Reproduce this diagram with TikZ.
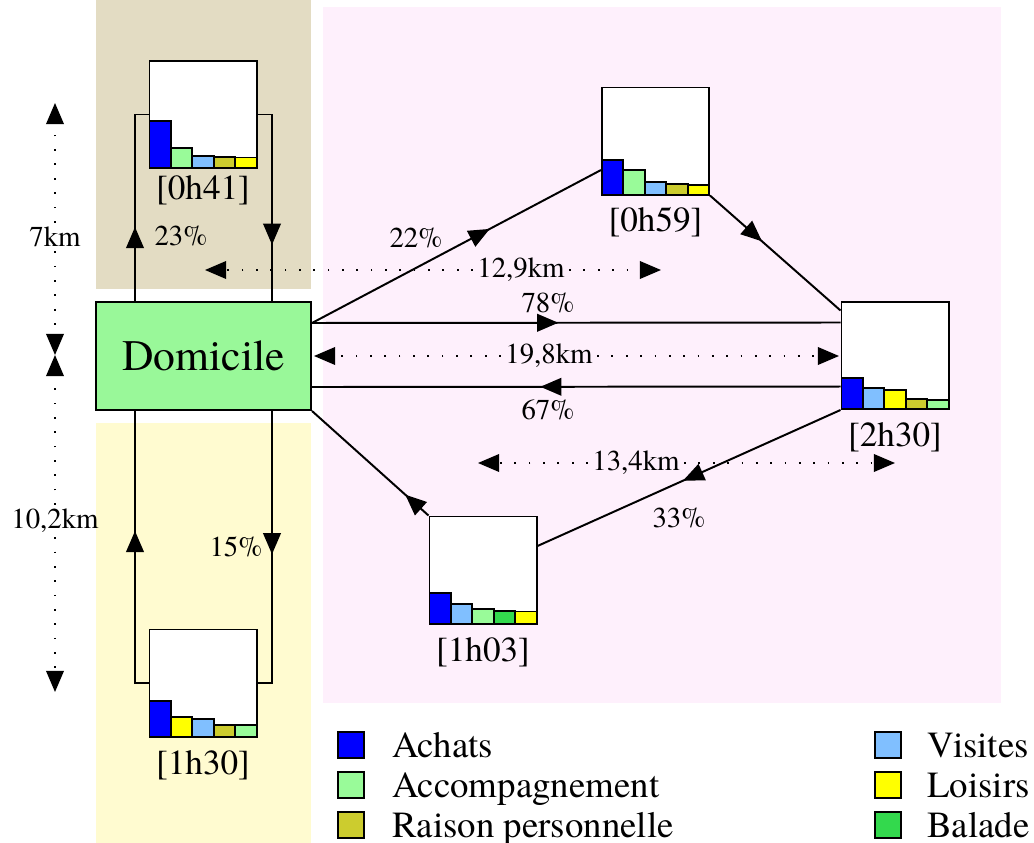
\documentclass[tikz,border=0pt]{standalone}
\usepackage{fontspec}
\newfontfamily\tnr{texgyretermes-regular.otf}
\usetikzlibrary{arrows.meta,decorations.markings,calc}
\definecolor{cBlue}{HTML}{0000FF}
\definecolor{cLgreen}{HTML}{99FB99}
\definecolor{cLblue}{HTML}{80BFFF}
\definecolor{cOlive}{HTML}{CCCC2E}
\definecolor{cYellow}{HTML}{FFFF00}
\definecolor{cDgreen}{HTML}{33D94D}
\definecolor{bgTan}{HTML}{E3DCC3}
\definecolor{bgYel}{HTML}{FFFBD0}
\definecolor{bgPink}{HTML}{FEF0FC}
\definecolor{domFill}{HTML}{99F899}
\newcommand\chartbars[3]{\foreach \t/\c [count=\i from 0] in {#3}{\draw[bar,fill=\c] ({#1+\i*21.4},#2) rectangle ({#1+(\i+1)*21.4},\t);}}
\tikzset{
  chart/.style={draw, line width=1.4pt, fill=white, minimum size=2.675cm, inner sep=0pt},
  bar/.style={draw, line width=1.4pt},
  dombox/.style={draw, line width=1.4pt, fill=domFill, minimum width=5.375cm, minimum height=2.7cm, inner sep=0pt, font=\tnr\fontsize{31}{36}\selectfont},
  lab/.style={inner sep=0pt, font=\tnr\fontsize{25}{30}\selectfont},
  small/.style={inner sep=0pt, font=\tnr\fontsize{20.5}{24}\selectfont},
  dlab/.style={inner sep=3pt, font=\tnr\fontsize{20.5}{24}\selectfont},
  edge/.style={line width=1.4pt},
  midarrow/.style={postaction={decorate}, decoration={markings, mark=at position #1 with {\arrow{Triangle[length=15pt,width=12.5pt]}}}},
  dist/.style={line width=1.2pt, dash pattern=on 1.2pt off 9pt, -{Triangle[length=15pt,width=12.5pt]}},
  legsq/.style={draw, line width=1.4pt, minimum size=0.65cm, inner sep=0pt},
  legtxt/.style={inner sep=0pt, anchor=base west, font=\tnr\fontsize{26.2}{30}\selectfont},
}
\begin{document}
\begin{tikzpicture}[x=0.025cm, y=-0.025cm]
\useasboundingbox (0,0) rectangle (1034,843);
% backgrounds
\fill[bgTan] (96,0) rectangle (311,289);
\fill[bgYel] (96,423) rectangle (311,843);
\fill[bgPink] (323,7) rectangle (1001,703);

% nodes
\node[dombox] (dom) at (203.5,356) {Domicile};
\node[chart] (n041) at (203,114.5) {};
\node[chart] (n059) at (655.5,141) {};
\node[chart] (n230) at (895,355.5) {};
\node[chart] (n103) at (483,570) {};
\node[chart] (n130) at (203,683) {};

% connectors
\draw[edge,midarrow=0.37] ([xshift=1cm]dom.north west) |- (n041.west);
\draw[edge,midarrow=0.72] (n041.east) -| ([xshift=-1cm]dom.north east);
\draw[edge,midarrow=0.58] (n130.west) -| ([xshift=1cm]dom.south west);
\draw[edge,midarrow=0.5] ([xshift=-1cm]dom.south east) |- (n130.east);
\draw[edge,midarrow=0.615] ([yshift=0.825cm]dom.east) -- ([yshift=-0.725cm]n059.west);
\draw[edge,midarrow=0.4] (n059.south east) -- ([yshift=1.125cm]n230.west);
\draw[edge,midarrow=0.466] ([yshift=0.825cm]dom.east) -- ([yshift=0.825cm]n230.west);
\draw[edge,midarrow=0.568] ([yshift=-0.775cm]n230.west) -- ([yshift=-0.775cm]dom.east);
\draw[edge,midarrow=0.52] (n230.south west) -- ([yshift=0.6cm]n103.east);
\draw[edge,midarrow=0.2] (n103.north west) -- (dom.south east);

% bars
\chartbars{149.5}{168}{121/cBlue,148/cLgreen,156/cLblue,157/cOlive,157.5/cYellow}
\chartbars{602}{194.5}{160/cBlue,170/cLgreen,182/cLblue,184/cOlive,185/cYellow}
\chartbars{841.5}{409}{378/cBlue,388/cLblue,390/cYellow,399/cOlive,400/cLgreen}
\chartbars{429.5}{623.5}{593/cBlue,604/cLblue,609/cLgreen,611/cDgreen,611.5/cYellow}
\chartbars{149.5}{736.5}{701/cBlue,717/cYellow,719/cLblue,725/cOlive,725/cLgreen}

% time labels
\node[lab] (l041) at (203,190) {[0h41]};
\node[lab] (l059) at (655.5,222) {[0h59]};
\node[lab] (l230) at (895,437) {[2h30]};
\node[lab] (l103) at (483,652) {[1h03]};
\node[lab] (l130) at (203,765) {[1h30]};

% percentages
\node[small] (p23) at (181,236) {23\%};
\node[small] (p15) at (236,547) {15\%};
\node[small] (p22) at (416,238) {22\%};
\node[small] (p78) at (548,303) {78\%};
\node[small] (p67) at (548,410) {67\%};
\node[small] (p33) at (679,518) {33\%};

% distances
\coordinate (d1a) at (205,270); \coordinate (d1b) at (661,270);
\node[dlab] (d1) at (521,270) {12,9km};
\draw[dist] (d1) -- (d1a); \draw[dist] (d1) -- (d1b);
\coordinate (d2a) at (314,356); \coordinate (d2b) at (839,356);
\node[dlab] (d2) at (549,356) {19,8km};
\draw[dist] (d2) -- (d2a); \draw[dist] (d2) -- (d2b);
\coordinate (d3a) at (478,463); \coordinate (d3b) at (895,463);
\node[dlab] (d3) at (636,463) {13,4km};
\draw[dist] (d3) -- (d3a); \draw[dist] (d3) -- (d3b);
\coordinate (v1) at (55,103); \coordinate (vm) at (55,355); \coordinate (v2) at (55,692);
\node[dlab] (v7) at (55,237) {7km};
\node[dlab] (v10) at (55,521) {10,2km};
\draw[dist] (v7) -- (v1); \draw[dist] (v7) -- (vm);
\draw[dist] (v10) -- (vm); \draw[dist] (v10) -- (v2);

% legend
\node[legsq, fill=cBlue] (k1) at (351,745) {};
\node[legsq, fill=cLgreen] (k2) at (351,785) {};
\node[legsq, fill=cOlive] (k3) at (351,825) {};
\node[legsq, fill=cLblue] (k4) at (888,745) {};
\node[legsq, fill=cYellow] (k5) at (888,785) {};
\node[legsq, fill=cDgreen] (k6) at (888,825) {};
\node[legtxt] (t1) at (392,757) {Achats};
\node[legtxt] (t2) at (392,797) {Accompagnement};
\node[legtxt] (t3) at (392,837) {Raison personnelle};
\node[legtxt] (t4) at (927,757) {Visites};
\node[legtxt] (t5) at (927,797) {Loisirs};
\node[legtxt] (t6) at (927,837) {Balade};
\end{tikzpicture}
\end{document}
